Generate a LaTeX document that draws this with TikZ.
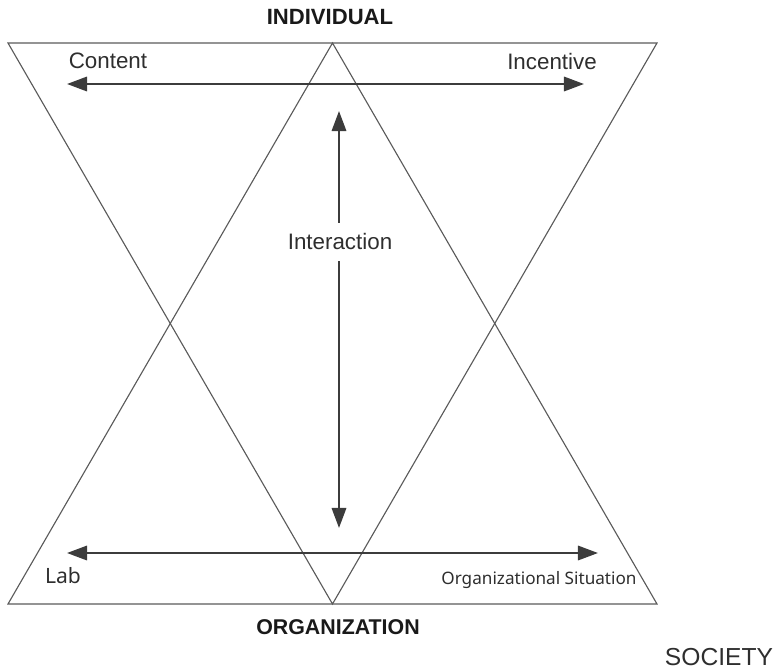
\documentclass[tikz,border=0pt]{standalone}
\usepackage{fontspec}
\setmainfont{Liberation Sans}
\newfontfamily\notosans{Noto Sans}
\usetikzlibrary{arrows.meta}

\definecolor{edgegray}{HTML}{5A5A5A}
\definecolor{arrowgray}{HTML}{3C3C3C}
\definecolor{textgray}{HTML}{2E2E2E}

\tikzset{
    tri/.style={draw=edgegray, line width=0.8pt, line join=miter},
    flow/.style={draw=arrowgray, line width=1.4pt,
        {Triangle[length=0.5cm, width=0.36cm]}-{Triangle[length=0.5cm, width=0.36cm]}},
    head/.style={font=\fontsize{15.7}{18}\selectfont\bfseries, text=black!90, inner sep=0pt},
    tag/.style={font=\fontsize{15.9}{18}\selectfont, text=textgray, inner sep=0pt},
    tagsmall/.style={font=\notosans\fontsize{12.2}{14}\selectfont, text=textgray, inner sep=0pt}
}

\begin{document}
\begin{tikzpicture}[x=0.025cm, y=-0.025cm]
            \useasboundingbox (0, 0) rectangle (778, 671);
            %\draw[lightgray] (0, 0) grid[step=50] (778, 671);
            % corners of the two triangles
            \coordinate (tl) at (8, 43);
            \coordinate (tr) at (657, 43);
            \coordinate (tm) at (332.5, 43);
            \coordinate (bl) at (8, 604);
            \coordinate (br) at (657, 604);
            \coordinate (bm) at (332.5, 604);
            \draw[tri] (tl) -- (tr) -- (bm) -- cycle;
            \draw[tri] (bl) -- (br) -- (tm) -- cycle;
            % ends of the arrows
            \coordinate (cl) at (67, 84);
            \coordinate (cr) at (584, 84);
            \coordinate (vt) at (339, 111);
            \coordinate (vb) at (339, 528);
            \coordinate (ol) at (67, 553);
            \coordinate (or) at (598, 553);
            \draw[flow] (cl) -- (cr);
            \draw[flow] (ol) -- (or);
            \draw[flow] (vt) -- (vb);
            % labels
            \node[head] (indiv) at (330, 17) {INDIVIDUAL};
            \node[head, font=\fontsize{15.2}{18}\selectfont\bfseries] (orga) at (338, 627) {ORGANIZATION};
            \node[tag, font=\fontsize{17.5}{20}\selectfont] (soc) at (719, 657) {SOCIETY};
            \node[tag] (content) at (108, 61) {Content};
            \node[tag] (incent) at (552, 62) {Incentive};
            \node[tag, fill=white, inner xsep=1pt, inner ysep=8pt] (inter) at (340, 242) {Interaction};
            \node[tagsmall, font=\notosans\fontsize{15}{18}\selectfont] (lab) at (63, 576) {Lab};
            \node[tagsmall] (orgsit) at (539, 580) {Organizational Situation};
\end{tikzpicture}
\end{document}
